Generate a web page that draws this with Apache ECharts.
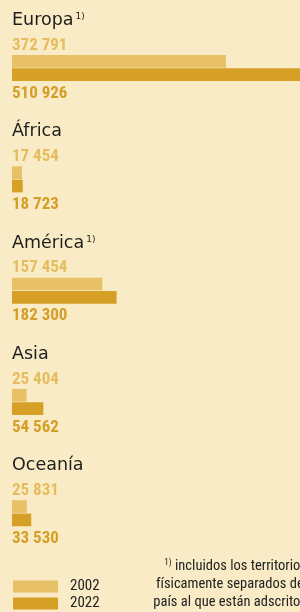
<!DOCTYPE html>
<html>
<head>
<meta charset="utf-8">
<script src="https://cdn.jsdelivr.net/npm/echarts@6/dist/echarts.min.js"></script>
<style>
  html, body { margin: 0; padding: 0; background: #f8ebc5; }
  #chart { width: 300px; height: 612px; }
</style>
</head>
<body>
<div id="chart"></div>
<script>
// datos
var regiones = ['Europa', 'África', 'América', 'Asia', 'Oceanía'];
var notas = ['1)', '', '1)', '', ''];
var anios = ['2002', '2022'];
var valores2002 = [372791, 17454, 157454, 25404, 25831];
var valores2022 = [510926, 18723, 182300, 54562, 33530];
var notaPie = ['incluidos los territorios', 'físicamente separados del', 'país al que están adscritos'];

var colorClaro = '#e8c066';
var colorOscuro = '#d69f25';
var fuenteEstrecha = "'Liberation Sans Narrow', 'Roboto Condensed', 'DejaVu Sans Condensed', sans-serif";

function miles(v) {
    return String(v).replace(/\B(?=(\d{3})+(?!\d))/g, ' ');
}

var chart = echarts.init(document.getElementById('chart'));

// leyenda: una por año, para que no se reparta en columnas
var leyendas = anios.map(function (a, i) {
    return {
        left: 13, top: 579 + i * 17,
        padding: 0,
        itemWidth: 45, itemHeight: 12,
        icon: 'rect',
        textStyle: {
            fontFamily: fuenteEstrecha, fontSize: 15, color: '#222',
            padding: [0, 0, 0, 7]
        },
        data: [a]
    };
});

// nota al pie, alineada a la derecha (se corta en el borde)
var textosNota = notaPie.map(function (t, i) {
    return {
        type: 'text',
        x: 307, y: 566 + i * 18,
        style: {
            text: (i === 0 ? '{sup|1)} ' : '') + t,
            align: 'right', verticalAlign: 'middle',
            fontFamily: fuenteEstrecha, fontSize: 14.5, fill: '#222',
            rich: {
                sup: { fontFamily: fuenteEstrecha, fontSize: 9, lineHeight: 14, verticalAlign: 'top', fill: '#222' }
            }
        }
    };
});

var option = {
    backgroundColor: '#f8ebc5',
    animation: false,
    grid: { left: 12, top: 12.4, right: 0, height: 556.5 },
    // la barra de Europa 2022 se sale del borde derecho
    xAxis: { type: 'value', min: 0, max: 502000, show: false },
    yAxis: { type: 'category', data: regiones, inverse: true, show: false },
    legend: leyendas,
    series: [
        {
            name: anios[0], type: 'bar',
            data: valores2002,
            barWidth: 12.7, barGap: '5%',
            itemStyle: { color: colorClaro },
            label: {
                show: true,
                position: [0, 1.5],
                align: 'left', verticalAlign: 'bottom',
                formatter: function (p) {
                    var nota = notas[p.dataIndex] ? '{sup|' + notas[p.dataIndex] + '}' : '';
                    return '{name|' + p.name + '}' + nota + '\n{val|' + miles(p.value) + '}';
                },
                rich: {
                    name: { fontFamily: 'DejaVu Sans', fontSize: 17.5, color: '#1e1e1e', lineHeight: 28 },
                    sup: { fontFamily: 'DejaVu Sans', fontSize: 9, color: '#1e1e1e', lineHeight: 10, verticalAlign: 'top', padding: [6, 0, 0, 2] },
                    val: { fontFamily: fuenteEstrecha, fontWeight: 'bold', fontSize: 17, color: '#e6bd5e', lineHeight: 22 }
                }
            }
        },
        {
            name: anios[1], type: 'bar',
            data: valores2022,
            barWidth: 12.7,
            itemStyle: { color: colorOscuro },
            label: {
                show: true,
                position: [0, 25],
                align: 'left', verticalAlign: 'middle',
                formatter: function (p) { return miles(p.value); },
                fontFamily: fuenteEstrecha, fontWeight: 'bold', fontSize: 17,
                color: '#d49e28'
            }
        }
    ],
    graphic: textosNota
};
chart.setOption(option);
</script>
</body>
</html>
